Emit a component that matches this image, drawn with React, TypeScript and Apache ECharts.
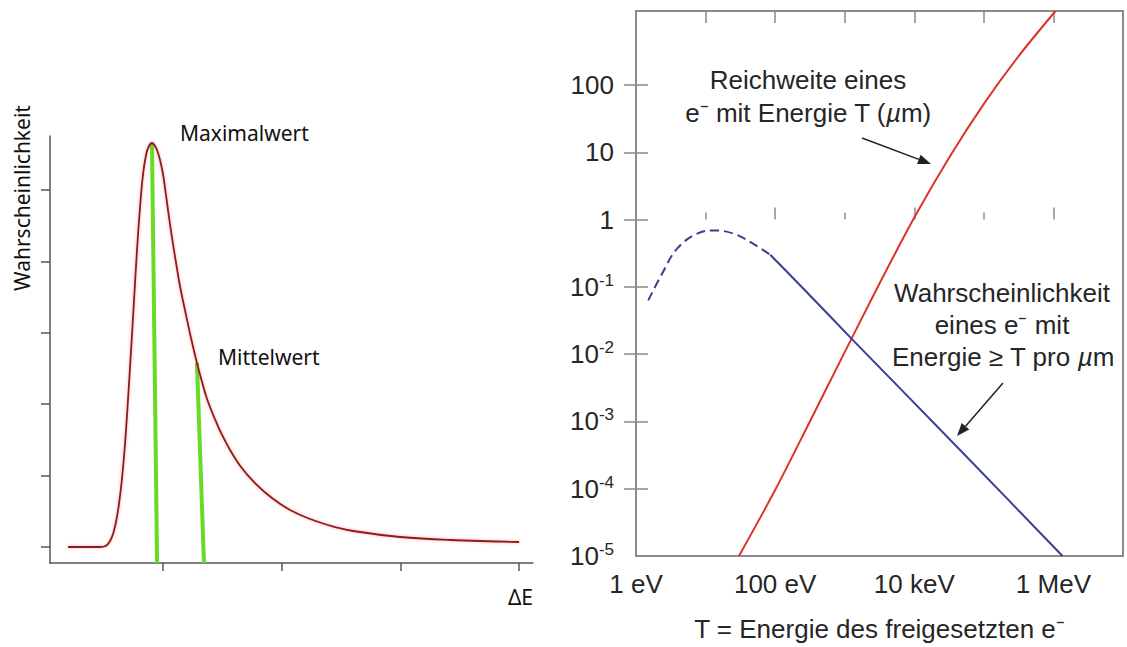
import React, { useEffect, useRef } from 'react';
import * as echarts from 'echarts';

// ---------- Left panel: energy-loss distribution (arbitrary units) ----------
const landauX = [0.2, 0.469, 0.503, 0.528, 0.554, 0.579, 0.604, 0.629, 0.655, 0.68, 0.705, 0.73, 0.756, 0.781, 0.806, 0.831, 0.857, 0.882, 0.907,
  0.933, 0.958, 0.975, 1.0, 1.025, 1.042, 1.076, 1.11, 1.143, 1.185, 1.236, 1.286, 1.329, 1.371, 1.43, 1.489, 1.565, 1.657, 1.775, 1.918, 2.07, 2.239, 2.449, 2.66, 2.997, 3.418, 4.0];
const landauY = [0, 0, 0.007, 0.028, 0.084, 0.182, 0.35, 0.602, 0.966, 1.443, 2.059, 2.731, 3.459, 4.16, 4.748, 5.21, 5.49, 5.616, 5.658,
  5.616, 5.518, 5.42, 5.224, 4.93, 4.72, 4.328, 3.978, 3.655, 3.319, 2.927, 2.577, 2.311, 2.073, 1.821, 1.597, 1.359, 1.12, 0.896, 0.686, 0.518, 0.392, 0.28, 0.21, 0.14, 0.098, 0.07];
const maxLineX = [0.907, 0.95];
const maxLineY = [5.658, -0.224];
const meanLineX = [1.286, 1.345];
const meanLineY = [2.577, -0.224];
const leftXTicks = [1, 2, 3, 4];
const leftYTicks = [0, 1, 2, 3, 4, 5];

// ---------- Right panel: log-log plot ----------
// Range of an electron with energy T (micrometres)
const rangeEnergyEV = [30.2, 100, 316, 1000, 3162, 10000, 31620, 100000, 316200, 1071500];
const rangeMicron = [1e-5, 9.55e-5, 1e-3, 0.0107, 0.112, 1.07, 8.32, 52.5, 269, 1259];
// Probability of an electron with energy >= T per micrometre (dashed low-energy part)
const probEnergyLowEV = [1.5, 2.3, 3.9, 7.6, 13, 25, 48, 85];
const probLow = [0.063, 0.148, 0.37, 0.62, 0.69, 0.62, 0.44, 0.3];
// solid part
const probEnergyHighEV = [85, 230, 1400, 43000, 1350000];
const probHigh = [0.3, 0.105, 0.0151, 4.0e-4, 1e-5];

const xLabelEnergies = [1, 100, 1e4, 1e6];
const xLabelTexts = ['1 eV', '100 eV', '10 keV', '1 MeV'];
const xTickEnergies = [10, 100, 1e3, 1e4, 1e5, 1e6];
const yTickValues = [1e-5, 1e-4, 1e-3, 1e-2, 1e-1, 1, 10, 100];

const SANS = 'Liberation Sans, Arial, Helvetica, sans-serif';
const LEFTFONT = 'Noto Sans, Open Sans, sans-serif';
const TXT = '#262626';
const lg = (v: number) => Math.log10(v);

function arrow(x1: number, y1: number, x2: number, y2: number) {
  const dx = x2 - x1, dy = y2 - y1;
  const L = Math.hypot(dx, dy);
  const ux = dx / L, uy = dy / L;
  const hl = 13, hw = 5;
  const bx = x2 - ux * hl, by = y2 - uy * hl;
  const nx = -uy, ny = ux;
  return [
    { type: 'line', shape: { x1, y1, x2: bx, y2: by }, style: { stroke: '#222', lineWidth: 1.5 } },
    { type: 'polygon', shape: { points: [[x2, y2], [bx + nx * hw, by + ny * hw], [bx - nx * hw, by - ny * hw]] }, style: { fill: '#222' } },
  ];
}

function txt(x: number, y: number, text: string, opts: any = {}) {
  return {
    type: 'text',
    x, y,
    rotation: opts.rotation || 0,
    style: {
      text,
      fill: opts.color || TXT,
      fontSize: opts.fontSize || 26,
      fontFamily: opts.fontFamily || SANS,
      align: opts.align || 'center',
      verticalAlign: 'middle',
      textAlign: opts.align || 'center',
      textVerticalAlign: 'middle',
      rich: opts.rich,
    },
  };
}

export default function App() {
  const ref = useRef<HTMLDivElement>(null);
  useEffect(() => {
    if (!ref.current) return;
    const chart = echarts.init(ref.current, undefined, { renderer: 'svg' });
    const tickStyle = { color: '#8a8a8a', width: 1.5 };
    const italicRich = { i: { fontStyle: 'italic', fontSize: 26, fontFamily: SANS, fill: TXT, color: TXT } };
    const option: any = {
      animation: false,
      backgroundColor: '#ffffff',
      grid: [
        { left: 50, top: 136, width: 483, height: 427 },
        { left: 636, top: 11, width: 487, height: 548, show: true, borderColor: '#8c8c8c', borderWidth: 2, backgroundColor: 'rgba(0,0,0,0)' },
      ],
      xAxis: [
        {
          gridIndex: 0, type: 'value', min: 0.048, max: 4.117,
          axisLine: { show: true, onZero: false, lineStyle: { color: '#555', width: 1.5 } },
          axisTick: { show: true, customValues: leftXTicks, length: 8, lineStyle: { color: '#555', width: 1.5 } },
          axisLabel: { show: false }, splitLine: { show: false },
        },
        {
          gridIndex: 1, type: 'value', min: 0, max: 7, position: 'bottom',
          axisLine: { show: false },
          axisTick: { show: true, inside: true, length: 12, customValues: [2, 4, 6], lineStyle: tickStyle },
          axisLabel: {
            show: true, customValues: xLabelEnergies.map(lg), margin: 15, fontSize: 26, fontFamily: SANS, color: TXT,
            formatter: (v: number) => {
              const i = xLabelEnergies.findIndex((e) => Math.abs(lg(e) - v) < 1e-6);
              return i >= 0 ? xLabelTexts[i] : '';
            },
          },
          splitLine: { show: false },
          name: 'T = Energie des freigesetzten e⁻', nameLocation: 'middle', nameGap: 60,
          nameTextStyle: { fontSize: 26, fontFamily: SANS, color: TXT },
        },
        {
          gridIndex: 1, type: 'value', min: 0, max: 7, position: 'bottom',
          axisLine: { show: false },
          axisTick: { show: true, inside: true, length: 7, customValues: [1, 3, 5], lineStyle: tickStyle },
          axisLabel: { show: false }, splitLine: { show: false },
        },
        {
          gridIndex: 1, type: 'value', min: 0, max: 7, position: 'top',
          axisLine: { show: false },
          axisTick: { show: true, inside: true, length: 12, customValues: xTickEnergies.map(lg), lineStyle: tickStyle },
          axisLabel: { show: false }, splitLine: { show: false },
        },
      ],
      yAxis: [
        {
          gridIndex: 0, type: 'value', min: -0.224, max: 5.756,
          axisLine: { show: true, onZero: false, lineStyle: { color: '#555', width: 1.5 } },
          axisTick: { show: true, customValues: leftYTicks, length: 9, lineStyle: { color: '#555', width: 1.5 } },
          axisLabel: { show: false }, splitLine: { show: false },
        },
        {
          gridIndex: 1, type: 'value', min: -5, max: 3.1, position: 'left',
          axisLine: { show: false },
          axisTick: { show: true, inside: true, length: 12, customValues: yTickValues.slice(1).map(lg), lineStyle: tickStyle },
          axisLabel: {
            show: true, customValues: yTickValues.map(lg), margin: 22, fontSize: 26, fontFamily: SANS, color: TXT,
            formatter: (v: number) => {
              const e = Math.round(v);
              return e >= 0 ? String(Math.round(Math.pow(10, e))) : `{b|10}{s|${e}}`;
            },
            rich: {
              b: { fontSize: 26, fontFamily: SANS, color: TXT, lineHeight: 30 },
              s: { fontSize: 17, fontFamily: SANS, color: TXT, verticalAlign: 'top', lineHeight: 17 },
            },
          },
          splitLine: { show: false },
        },
        {
          gridIndex: 1, type: 'value', min: -5, max: 3.1, position: 'right',
          axisLine: { show: false },
          axisTick: { show: true, inside: true, length: 12, customValues: yTickValues.slice(1).map(lg), lineStyle: tickStyle },
          axisLabel: { show: false }, splitLine: { show: false },
        },
      ],
      series: [
        {
          type: 'line', xAxisIndex: 0, yAxisIndex: 0, showSymbol: false, silent: true, z: 2,
          data: maxLineX.map((x, i) => [x, maxLineY[i]]),
          lineStyle: { color: '#66dd22', width: 4 },
        },
        {
          type: 'line', xAxisIndex: 0, yAxisIndex: 0, showSymbol: false, silent: true, z: 2,
          data: meanLineX.map((x, i) => [x, meanLineY[i]]),
          lineStyle: { color: '#66dd22', width: 4 },
        },
        {
          type: 'line', xAxisIndex: 0, yAxisIndex: 0, showSymbol: false, silent: true, z: 3, smooth: 0.4,
          data: landauX.map((x, i) => [x, landauY[i]]),
          lineStyle: { color: '#8a1b1b', width: 1.8, shadowColor: 'rgba(255,90,90,0.55)', shadowBlur: 3 },
        },
        {
          type: 'line', xAxisIndex: 1, yAxisIndex: 1, showSymbol: false, silent: true, smooth: 0.3,
          data: rangeEnergyEV.map((e, i) => [lg(e), lg(rangeMicron[i])]),
          lineStyle: { color: '#dd3328', width: 2 },
        },
        {
          type: 'line', xAxisIndex: 1, yAxisIndex: 1, showSymbol: false, silent: true, smooth: 0.4,
          data: probEnergyLowEV.map((e, i) => [lg(e), lg(probLow[i])]),
          lineStyle: { color: '#3a3e92', width: 2, type: [9, 5] },
        },
        {
          type: 'line', xAxisIndex: 1, yAxisIndex: 1, showSymbol: false, silent: true, smooth: 0.2,
          data: probEnergyHighEV.map((e, i) => [lg(e), lg(probHigh[i])]),
          lineStyle: { color: '#3a3e92', width: 2 },
        },
      ],
      graphic: [
        txt(180, 133, 'Maximalwert', { align: 'left', fontSize: 21, fontFamily: LEFTFONT, color: '#111' }),
        txt(218, 357, 'Mittelwert', { align: 'left', fontSize: 21, fontFamily: LEFTFONT, color: '#111' }),
        txt(22, 198, 'Wahrscheinlichkeit', { fontSize: 21, fontFamily: LEFTFONT, color: '#111', rotation: Math.PI / 2 }),
        txt(533, 597, 'ΔE', { align: 'right', fontSize: 21, fontFamily: LEFTFONT, color: '#111' }),
        txt(808, 80, 'Reichweite eines'),
        txt(808, 113, 'e⁻ mit Energie T ({i|µ}m)', { rich: italicRich }),
        txt(1002, 293, 'Wahrscheinlichkeit'),
        txt(1002, 325, 'eines e⁻ mit'),
        txt(1003, 357, 'Energie ≥ T pro {i|µ}m', { rich: italicRich }),
        ...arrow(862, 138, 931, 164),
        ...arrow(1003, 383, 957, 436),
      ],
    };
    chart.setOption(option);
    return () => chart.dispose();
  }, []);
  return <div ref={ref} style={{ position: 'fixed', left: 0, top: 0, width: 1127, height: 647, background: '#fff' }} />;
}
